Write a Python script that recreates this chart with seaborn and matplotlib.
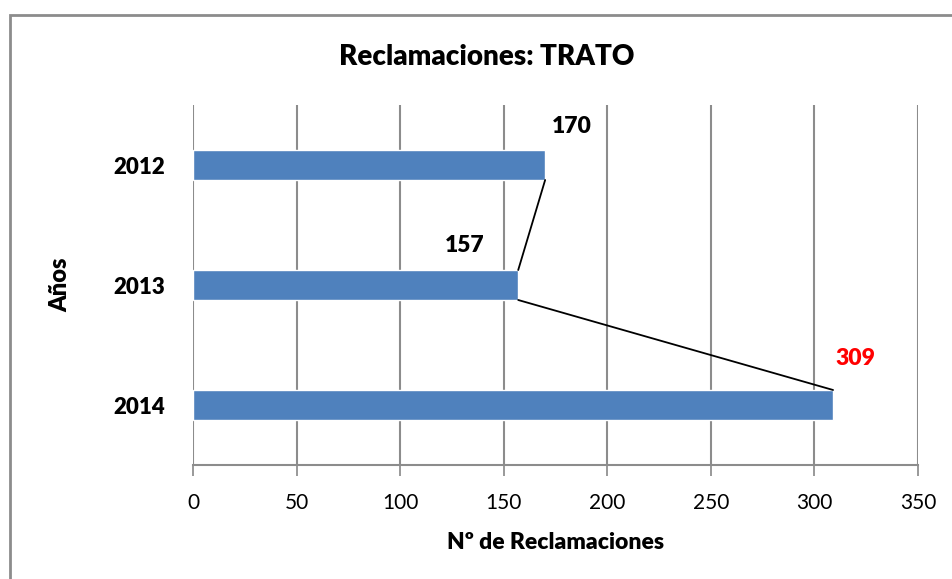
import matplotlib
matplotlib.use("Agg")
import matplotlib.pyplot as plt
import pandas as pd
import seaborn as sns
from matplotlib.patches import Rectangle

years = ["2012", "2013", "2014"]
reclamaciones = [170, 157, 309]
label_colors = ["black", "black", "red"]
# manual label positions (Excel-style, moved by hand)
label_x = [183, 131, 320]
label_dy = [-0.32, -0.33, -0.39]

title = "Reclamaciones: TRATO"
xlabel = "Nº de Reclamaciones"
ylabel = "Años"
xticks = [0, 50, 100, 150, 200, 250, 300, 350]

df = pd.DataFrame({"year": years, "value": reclamaciones})

sns.set_theme(style="white")
plt.rcParams["font.family"] = ["Lato", "DejaVu Sans"]
plt.rcParams["text.color"] = "black"
plt.rcParams["axes.labelcolor"] = "black"
plt.rcParams["xtick.labelcolor"] = "black"
plt.rcParams["ytick.labelcolor"] = "black"

W, H = 952, 579
fig = plt.figure(figsize=(W / 100, H / 100), dpi=100)
ax = fig.add_axes([193 / W, 1 - 465 / H, (918 - 193) / W, (465 - 105) / H])

bar_w = 0.25
sns.barplot(data=df, x="value", y="year", orient="h", color="#4F81BD",
            width=bar_w, saturation=1, ax=ax, zorder=3)

# series lines between bar ends
for i in range(len(years) - 1):
    ax.plot([reclamaciones[i], reclamaciones[i + 1]],
            [i + bar_w / 2, i + 1 - bar_w / 2],
            color="black", lw=1.3, zorder=4)

for i, (v, lx, dy, c) in enumerate(zip(reclamaciones, label_x, label_dy, label_colors)):
    ax.text(lx, i + dy, str(v), ha="center", va="center", fontsize=16.5,
            fontweight="heavy", color=c)

ax.set_xlim(0, 350)
ax.set_ylim(2.5, -0.5)
ax.set_xticks(xticks)
ax.set_xticklabels([str(t) for t in xticks], fontsize=15)
ax.tick_params(axis="x", direction="out", length=8, width=1.2, color="#888888",
               pad=12, bottom=True)
ax.tick_params(axis="y", length=0, pad=20, labelsize=16)
for lab in ax.get_yticklabels():
    lab.set_fontweight("heavy")

ax.grid(axis="x", color="#8C8C8C", lw=1.5, zorder=0)
ax.grid(axis="y", visible=False)
for s in ["top", "right", "left"]:
    ax.spines[s].set_visible(False)
ax.spines["bottom"].set_color("#8C8C8C")
ax.spines["bottom"].set_linewidth(1.5)

ax.set_xlabel(xlabel, fontsize=16.5, fontweight="heavy", labelpad=14)
ax.set_ylabel(ylabel, fontsize=17, fontweight="heavy", labelpad=30)
fig.text(487 / W, 1 - 57 / H, title, ha="center", va="center",
         fontsize=20, fontweight="heavy")

fig.add_artist(Rectangle((9.5 / W, -0.05), 1.0, 1 - 15 / H + 0.05,
                         transform=fig.transFigure, fill=False,
                         edgecolor="#8C8C8C", lw=2))

fig.savefig("out.png", dpi=100)
